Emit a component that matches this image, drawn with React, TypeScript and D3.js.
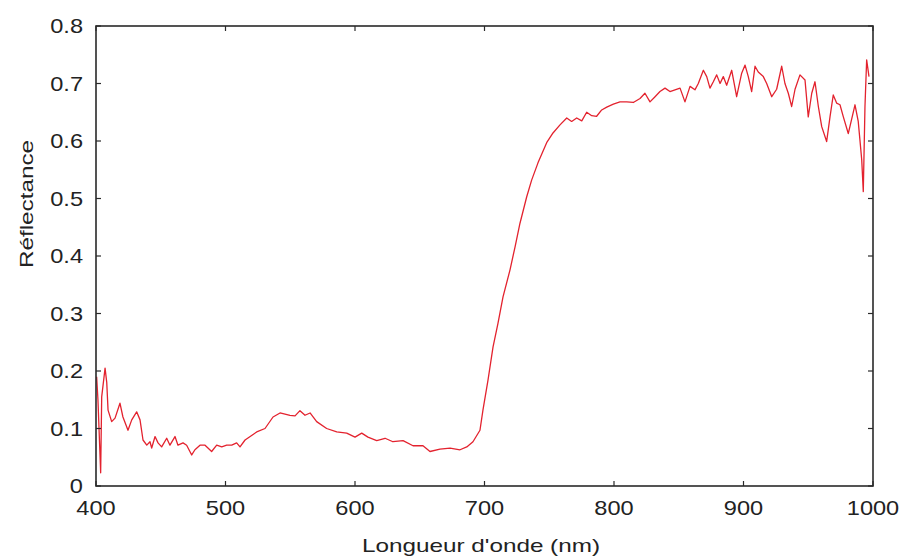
import React from "react";
import * as d3 from "d3";

const wavelengths: number[] = [
  400.5, 401.5, 403.6, 404.4, 407, 408.3, 409.3, 412.1, 414.7, 418.5, 420.8, 424.7, 427.6, 431.4, 434,
  436.3, 439.2, 441.7, 443, 445.6, 447.9, 450.7, 454.6, 457.1, 461, 463.3, 467.2, 470, 473.9, 476.4,
  480.3, 484.2, 489.3, 493.2, 497.1, 500.9, 504.8, 508.6, 511.2, 515.1, 524.1, 530.5, 536.7, 542.1,
  549.8, 553.7, 557.5, 561.4, 565.3, 570.4, 578.1, 585.9, 593.6, 600, 605.2, 610, 616.8, 623.2, 629.3,
  637.1, 644.8, 652.5, 657.9, 665.6, 673.4, 681.1, 686.3, 691.1, 696.5, 698.8, 702.7, 706.6, 710.4,
  714.3, 719.7, 723.6, 727.4, 732.6, 736.4, 741.3, 748, 752.9, 758.3, 763.5, 767.3, 771.2, 775.1,
  778.9, 782.8, 786.6, 790.5, 794.4, 799.5, 804.6, 809.8, 814.9, 820.1, 823.9, 827.8, 831.7, 835.5,
  839.4, 843.2, 847.1, 851, 854.8, 858.7, 862.5, 865.1, 869, 871.6, 874.1, 876.7, 879.3, 881.9, 884.4,
  887, 890.9, 894.7, 898.6, 901.2, 903.7, 906.3, 908.9, 911.4, 915.3, 917.9, 921.8, 925.6, 929.5, 932,
  934.6, 937.2, 939.8, 943.6, 947.5, 950, 952.7, 955.2, 957.8, 960.4, 964.2, 966.8, 969.3, 971.9,
  974.5, 977.1, 980.9, 986.1, 988.6, 989.9, 991.3, 992.5, 993.8, 995.1, 996.9,
];

const reflectance: number[] = [
  0.19, 0.15, 0.023, 0.155, 0.205, 0.18, 0.132, 0.112, 0.118, 0.144, 0.12, 0.097, 0.115, 0.129, 0.115,
  0.08, 0.071, 0.077, 0.066, 0.086, 0.075, 0.068, 0.083, 0.071, 0.086, 0.071, 0.075, 0.071, 0.054, 0.063,
  0.071, 0.071, 0.06, 0.071, 0.068, 0.071, 0.071, 0.075, 0.068, 0.08, 0.094, 0.1, 0.12, 0.127,
  0.123, 0.122, 0.131, 0.123, 0.127, 0.112, 0.1, 0.094, 0.092, 0.085, 0.092, 0.085, 0.079, 0.083, 0.077,
  0.079, 0.07, 0.07, 0.06, 0.064, 0.066, 0.063, 0.068, 0.077, 0.097, 0.132, 0.184, 0.242, 0.283,
  0.329, 0.376, 0.416, 0.457, 0.503, 0.532, 0.562, 0.597, 0.614, 0.628, 0.64, 0.634, 0.64, 0.635,
  0.65, 0.644, 0.643, 0.654, 0.659, 0.664, 0.668, 0.668, 0.667, 0.674, 0.683, 0.668, 0.677, 0.686,
  0.692, 0.686, 0.689, 0.692, 0.668, 0.695, 0.689, 0.7, 0.723, 0.712, 0.692, 0.703, 0.715, 0.7, 0.712,
  0.697, 0.723, 0.677, 0.718, 0.732, 0.712, 0.686, 0.73, 0.72, 0.712, 0.7, 0.677, 0.69, 0.73, 0.7,
  0.683, 0.66, 0.69, 0.715, 0.706, 0.642, 0.683, 0.703, 0.66, 0.625, 0.599, 0.642, 0.68, 0.666,
  0.663, 0.642, 0.613, 0.663, 0.634, 0.602, 0.567, 0.512, 0.66, 0.741, 0.712,
];

const xTicks: number[] = [400, 500, 600, 700, 800, 900, 1000];
const yTicks: number[] = [0, 0.1, 0.2, 0.3, 0.4, 0.5, 0.6, 0.7, 0.8];
const yTickLabels: string[] = ["0", "0.1", "0.2", "0.3", "0.4", "0.5", "0.6", "0.7", "0.8"];
const xLabel = "Longueur d'onde (nm)";
const yLabel = "Réflectance";

const W = 904;
const H = 557;
const L = 96;
const R = 873;
const T = 26;
const B = 486;
const FONT = "'Liberation Sans', Arial, Helvetica, sans-serif";
const SX = 1.18;
const AXIS = "#2a2a2a";

export default function App() {
  const x = d3.scaleLinear().domain([400, 1000]).range([L, R]);
  const y = d3.scaleLinear().domain([0, 0.8]).range([B, T]);
  const pts: [number, number][] = wavelengths.map((w, i) => [w, reflectance[i]]);
  const line = d3
    .line<[number, number]>()
    .x((d) => x(d[0]))
    .y((d) => y(d[1]));
  const tl = 5;

  return (
    <svg
      width={W}
      height={H}
      style={{ position: "absolute", left: 0, top: 0, background: "#fff" }}
      fontFamily={FONT}
    >
      <rect x={0} y={0} width={W} height={H} fill="#fff" />
      <path d={line(pts) || ""} fill="none" stroke="#e3222e" strokeWidth={1.3} strokeLinejoin="round" />
      <rect x={L} y={T} width={R - L} height={B - T} fill="none" stroke={AXIS} strokeWidth={1.6} />
      {xTicks.map((t) => (
        <g key={"xt" + t}>
          <line x1={x(t)} x2={x(t)} y1={B} y2={B - tl} stroke={AXIS} strokeWidth={1.2} />
          <line x1={x(t)} x2={x(t)} y1={T} y2={T + tl} stroke={AXIS} strokeWidth={1.2} />
          <g transform={`translate(${x(t)},${B + 29}) scale(${SX},1)`}>
            <text textAnchor="middle" fontSize={20} fill="#222">
              {t}
            </text>
          </g>
        </g>
      ))}
      {yTicks.map((t, i) => (
        <g key={"yt" + t}>
          <line x1={L} x2={L + tl} y1={y(t)} y2={y(t)} stroke={AXIS} strokeWidth={1.2} />
          <line x1={R} x2={R - tl} y1={y(t)} y2={y(t)} stroke={AXIS} strokeWidth={1.2} />
          <g transform={`translate(${L - 13},${y(t) + 7}) scale(${SX},1)`}>
            <text textAnchor="end" fontSize={20} fill="#222">
              {yTickLabels[i]}
            </text>
          </g>
        </g>
      ))}
      <text x={481} y={552} textAnchor="middle" fontSize={19} fill="#222" textLength={238} lengthAdjust="spacingAndGlyphs">
        {xLabel}
      </text>
      <text
        transform={`translate(33,204) rotate(-90)`}
        textAnchor="middle"
        fontSize={19}
        fill="#222"
        textLength={128}
        lengthAdjust="spacingAndGlyphs"
      >
        {yLabel}
      </text>
    </svg>
  );
}
